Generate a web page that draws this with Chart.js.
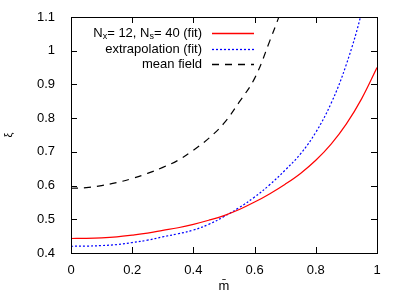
<!DOCTYPE html>
<html>
<head>
<meta charset="utf-8">
<script src="https://cdn.jsdelivr.net/npm/chart.js@4"></script>
<style>
  html, body { margin: 0; padding: 0; background: #fff; }
  #wrap { width: 403px; height: 299px; position: relative; }
</style>
</head>
<body>
<div id="wrap"><canvas id="xiChart" width="403" height="299"></canvas></div>
<script>
// values
const mBar      = [0, 0.05, 0.1, 0.15, 0.2, 0.25, 0.3, 0.35, 0.4, 0.45, 0.5, 0.55, 0.6, 0.65, 0.7, 0.75, 0.8, 0.85, 0.9, 0.95, 1.0];
const xiFit     = [0.443, 0.4435, 0.445, 0.448, 0.453, 0.459, 0.467, 0.475, 0.485, 0.497, 0.511, 0.529, 0.551, 0.576, 0.604, 0.636, 0.675, 0.723, 0.783, 0.858, 0.950];
const xiExtrap  = [0.420, 0.4205, 0.422, 0.425, 0.431, 0.438, 0.448, 0.457, 0.468, 0.485, 0.508, 0.535, 0.566, 0.603, 0.646, 0.694, 0.758, 0.844, 0.960, 1.115, 1.325];
const mField    = [0, 0.05, 0.1, 0.15, 0.2, 0.25, 0.3, 0.35, 0.4, 0.45, 0.5, 0.55, 0.6, 0.65, 0.7];
const xiMean    = [0.592, 0.594, 0.600, 0.609, 0.621, 0.636, 0.654, 0.675, 0.705, 0.740, 0.785, 0.848, 0.918, 1.030, 1.150];
const xTicks    = [0, 0.2, 0.4, 0.6, 0.8, 1];
const yTicks    = [0.4, 0.5, 0.6, 0.7, 0.8, 0.9, 1, 1.1];

const FONT = "Liberation Sans, Arial, sans-serif";

function toPts(xs, ys) {
    return xs.map((x, i) => ({ x: x, y: ys[i] }));
}

// gnuplot-like frame, inward ticks, legend and axis titles
const framePlugin = {
    id: "frame",
    afterDatasetsDraw(chart) {
        const ctx = chart.ctx;
        const a = chart.chartArea;
        const sx = chart.scales.x, sy = chart.scales.y;
        ctx.save();
        ctx.strokeStyle = "#000";
        ctx.lineWidth = 1;
        ctx.beginPath();
        xTicks.forEach(v => {
            const px = Math.round(sx.getPixelForValue(v)) + 0.5;
            ctx.moveTo(px, a.bottom); ctx.lineTo(px, a.bottom - 6);
            ctx.moveTo(px, a.top); ctx.lineTo(px, a.top + 6);
        });
        yTicks.forEach(v => {
            const py = Math.round(sy.getPixelForValue(v)) + 0.5;
            ctx.moveTo(a.left, py); ctx.lineTo(a.left + 6, py);
            ctx.moveTo(a.right, py); ctx.lineTo(a.right - 6, py);
        });
        ctx.stroke();
        ctx.strokeRect(Math.round(a.left) + 0.5, Math.round(a.top) + 0.5,
                       Math.round(a.right - a.left), Math.round(a.bottom - a.top));

        // legend
        const rows = [
            { parts: [["N", 0], ["x", 1], ["= 12, N", 0], ["s", 1], ["= 40 (fit)", 0]], color: "#ff0000", dash: [], y: 33 },
            { parts: [["extrapolation (fit)", 0]], color: "#0000ff", dash: [2, 2], y: 49 },
            { parts: [["mean field", 0]], color: "#000000", dash: [7, 6], y: 64 }
        ];
        const textRight = 202;
        ctx.textBaseline = "middle";
        ctx.textAlign = "left";
        rows.forEach(r => {
            let w = 0;
            r.parts.forEach(p => {
                ctx.font = (p[1] ? "9px " : "13px ") + FONT;
                w += ctx.measureText(p[0]).width;
            });
            let x = textRight - w;
            ctx.fillStyle = "#000";
            r.parts.forEach(p => {
                ctx.font = (p[1] ? "9px " : "13px ") + FONT;
                ctx.fillText(p[0], x, r.y + (p[1] ? 4 : 0));
                x += ctx.measureText(p[0]).width;
            });
            ctx.beginPath();
            ctx.strokeStyle = r.color;
            ctx.lineWidth = 1.3;
            ctx.setLineDash(r.dash);
            ctx.moveTo(212, r.y + 0.5);
            ctx.lineTo(254, r.y + 0.5);
            ctx.stroke();
            ctx.setLineDash([]);
        });

        // axis titles
        ctx.fillStyle = "#000";
        ctx.font = "13px " + FONT;
        ctx.textAlign = "center";
        ctx.fillText("m\u0304", (a.left + a.right) / 2, 286);
        ctx.save();
        ctx.translate(9, 135);
        ctx.rotate(-Math.PI / 2);
        ctx.font = "11px " + FONT;
        ctx.fillText("\u03be", 0, 0);
        ctx.restore();
        ctx.restore();
    }
};

new Chart(document.getElementById("xiChart"), {
    type: "line",
    data: {
        datasets: [
            {
                label: "N_x= 12, N_s= 40 (fit)",
                data: toPts(mBar, xiFit),
                borderColor: "#ff0000",
                borderWidth: 1.2,
                pointRadius: 0,
                tension: 0.4
            },
            {
                label: "extrapolation (fit)",
                data: toPts(mBar, xiExtrap),
                borderColor: "#0000ff",
                borderWidth: 1.2,
                borderDash: [2, 2],
                pointRadius: 0,
                tension: 0.4
            },
            {
                label: "mean field",
                data: toPts(mField, xiMean),
                borderColor: "#000000",
                borderWidth: 1.2,
                borderDash: [7, 6],
                pointRadius: 0,
                tension: 0.4
            }
        ]
    },
    options: {
        responsive: false,
        animation: false,
        devicePixelRatio: 1,
        layout: { padding: { top: 17, right: 26, left: 0, bottom: 0 } },
        plugins: {
            legend: { display: false },
            tooltip: { enabled: false }
        },
        scales: {
            x: {
                type: "linear",
                min: 0, max: 1,
                afterFit: s => { s.height = 46; },
                afterBuildTicks: s => { s.ticks = xTicks.map(v => ({ value: v })); },
                grid: { display: false },
                border: { display: false },
                ticks: {
                    color: "#000",
                    font: { family: FONT, size: 13 },
                    padding: 2,
                    maxRotation: 0,
                    callback: v => String(v)
                }
            },
            y: {
                type: "linear",
                min: 0.4, max: 1.1,
                afterFit: s => { s.width = 71; },
                afterBuildTicks: s => { s.ticks = yTicks.map(v => ({ value: v })); },
                grid: { display: false },
                border: { display: false },
                ticks: {
                    color: "#000",
                    font: { family: FONT, size: 13 },
                    padding: 8,
                    callback: v => String(Math.round(v * 10) / 10)
                }
            }
        }
    },
    plugins: [framePlugin]
});
</script>
</body>
</html>
